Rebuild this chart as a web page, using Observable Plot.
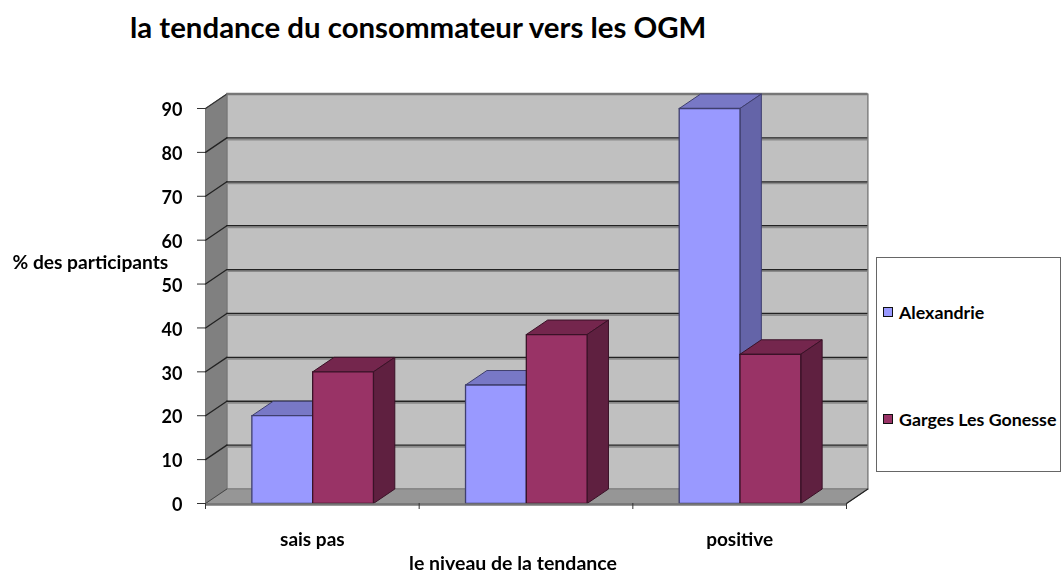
<!DOCTYPE html>
<html lang="fr">
<head>
<meta charset="utf-8">
<script src="https://cdn.jsdelivr.net/npm/d3@7"></script>
<script src="https://cdn.jsdelivr.net/npm/@observablehq/plot@0.6"></script>
<style>
  html, body { margin: 0; padding: 0; background: #fff; }
  #wrap { position: relative; width: 1064px; height: 574px; overflow: hidden; font-family: Lato, sans-serif; font-weight: 700; color: #000; }
  #chart svg { display: block; filter: blur(0.4px); }
  h1 { position: absolute; left: 130px; top: 10px; margin: 0; font-size: 29.4px; line-height: 34px; font-weight: 700; white-space: nowrap; }
  #legend { position: absolute; left: 876px; top: 257px; width: 185px; height: 215px; border: 1px solid #666; background: #fff; box-sizing: border-box; font-size: 17.8px; line-height: 22px; }
  .item { position: absolute; left: 6px; display: flex; align-items: center; white-space: nowrap; }
  .sw { width: 8px; height: 8px; border: 1.5px solid #111; margin-right: 6px; }
</style>
</head>
<body>
<div id="wrap">
  <h1 id="title"></h1>
  <div id="chart"></div>
  <div id="legend"></div>
</div>
<script>
const titleText = "la tendance du consommateur vers les OGM";
const yLabel = "% des participants";
const xLabel = "le niveau de la tendance";
const categories = ["sais pas", "", "positive"];
const seriesNames = ["Alexandrie", "Garges Les Gonesse"];
const alexandrie = [20, 27, 90];
const garges = [30, 38.5, 34];
const yTicks = [0, 10, 20, 30, 40, 50, 60, 70, 80, 90];

// style
const faceColors = [
  {front: "#9999ff", top: "#7878c6", side: "#6464a8", edge: "#3f3f6e"},
  {front: "#993366", top: "#74264d", side: "#5f2040", edge: "#3a1227"}
];
const depthX = 0.1, depthY = 3.3;        // 3D depth in data units
const gap = 0.217, barW = 0.2845;        // bar layout in category units
const n = categories.length;

function poly(points, fill, stroke, strokeWidth) {
  return Plot.line([...points, points[0]], {
    x: "0", y: "1", fill, stroke: stroke || "none", strokeWidth: strokeWidth || 0, strokeLinejoin: "round"
  });
}
function bar(cat, s, v) {
  const c = faceColors[s];
  const x0 = cat + gap + s * barW, x1 = x0 + barW;
  return [
    poly([[x0, v], [x1, v], [x1 + depthX, v + depthY], [x0 + depthX, v + depthY]], c.top, c.edge, 1),
    poly([[x1, 0], [x1 + depthX, depthY], [x1 + depthX, v + depthY], [x1, v]], c.side, c.edge, 1),
    poly([[x0, 0], [x1, 0], [x1, v], [x0, v]], c.front, c.edge, 1.3)
  ];
}
const gridVals = yTicks.filter(v => v > 0 && v < 90);

const plot = Plot.plot({
  width: 1064,
  height: 574,
  marginLeft: 205,
  marginRight: 218,
  marginTop: 108,
  marginBottom: 71,
  style: {fontFamily: "Lato, sans-serif", background: "transparent", color: "#000", overflow: "visible"},
  x: {domain: [0, n], axis: null},
  y: {domain: [0, 90], axis: null},
  marks: [
    // back wall, left wall, floor
    poly([[depthX, depthY], [n + depthX, depthY], [n + depthX, 90 + depthY], [depthX, 90 + depthY]], "#c0c0c0", "#808080", 1.5),
    poly([[0, 0], [depthX, depthY], [depthX, 90 + depthY], [0, 90]], "#808080", "#777", 1),
    poly([[0, 0], [n, 0], [n + depthX, depthY], [depthX, depthY]], "#969696", "#808080", 1),
    // grid on back wall
    Plot.ruleY(gridVals, {y: v => v + depthY, x1: depthX, x2: n + depthX, stroke: "#8a8a8a", strokeWidth: 2, dy: 1.5}),
    Plot.ruleY(gridVals, {y: v => v + depthY, x1: depthX, x2: n + depthX, stroke: "#222", strokeWidth: 1.3}),
    // grid on left wall
    ...gridVals.map(v => Plot.line([[0, v], [depthX, v + depthY]], {x: "0", y: "1", stroke: "#222", strokeWidth: 1.3})),
    Plot.line([[0, 90], [depthX, 90 + depthY]], {x: "0", y: "1", stroke: "#333", strokeWidth: 1.2}),
    Plot.line([[n, 0], [n + depthX, depthY]], {x: "0", y: "1", stroke: "#222", strokeWidth: 1.2}),
    Plot.line([[0, 0], [depthX, depthY]], {x: "0", y: "1", stroke: "#444", strokeWidth: 1}),
    // wall top edge
    Plot.ruleY([90 + depthY], {x1: depthX, x2: n + depthX, stroke: "#777", strokeWidth: 2.5}),
    // bars
    ...alexandrie.flatMap((v, i) => bar(i, 0, v)),
    ...garges.flatMap((v, i) => bar(i, 1, v)),
    // front floor edge
    Plot.ruleY([0], {x1: 0, x2: n, stroke: "#777", strokeWidth: 2.5, dy: 1}),
    // axes
    Plot.axisY({anchor: "left", ticks: yTicks, tickSize: 8, tickFormat: () => "", stroke: "#333", label: null}),
    Plot.axisY({anchor: "left", ticks: yTicks, tickSize: 0, tickPadding: 23, dy: 2, fontSize: 18, fontWeight: 700, label: null}),
    Plot.axisX({anchor: "bottom", ticks: d3.range(n + 1), tickSize: 6, tickFormat: () => "", stroke: "#333", label: null}),
    Plot.axisX({
      anchor: "bottom",
      ticks: categories.map((c, i) => i + 0.5).filter((d, i) => categories[i]),
      tickSize: 0, tickPadding: 29, tickFormat: d => categories[Math.floor(d)],
      fontSize: 19, fontWeight: 700, label: null
    }),
    // axis titles
    Plot.text([yLabel], {text: d => d, frameAnchor: "left", textAnchor: "start", dx: -193, dy: -43, fontSize: 19.2, fontWeight: 700}),
    Plot.text([xLabel], {text: d => d, frameAnchor: "bottom", dx: -13, dy: 66, fontSize: 19.5, fontWeight: 700})
  ]
});

document.getElementById("chart").append(plot);
document.getElementById("title").textContent = titleText;
const legend = document.getElementById("legend");
const legendTops = [43, 150];
seriesNames.forEach((name, i) => {
  const item = document.createElement("div");
  item.className = "item";
  item.style.top = legendTops[i] + "px";
  const sw = document.createElement("span");
  sw.className = "sw";
  sw.style.background = faceColors[i].front;
  const label = document.createElement("span");
  label.textContent = name;
  item.append(sw, label);
  legend.append(item);
});
</script>
</body>
</html>
